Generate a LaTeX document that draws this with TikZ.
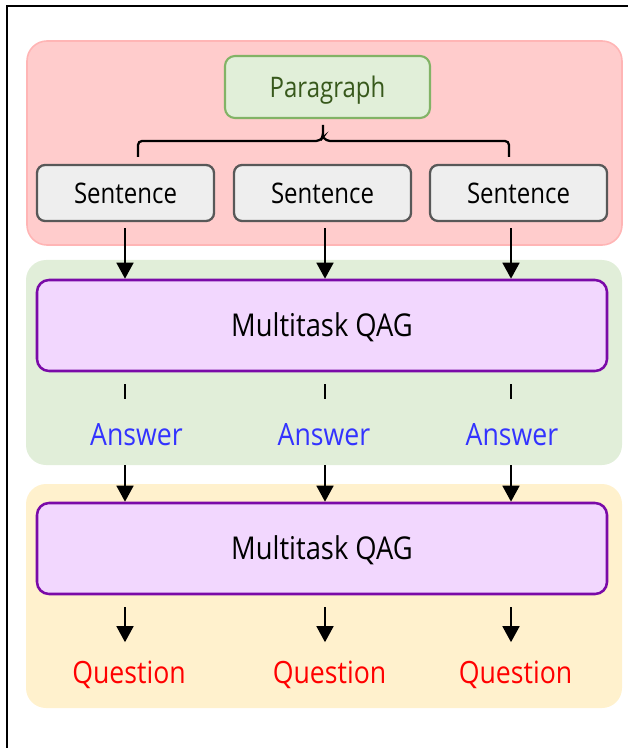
\documentclass[tikz,border=0pt]{standalone}
\usepackage{graphicx}
\usepackage{fontspec}
\setmainfont{Open Sans}
\usetikzlibrary{arrows.meta,calc}

\definecolor{regionred}{HTML}{FFCCCC}
\definecolor{regionredline}{HTML}{FFB5B5}
\definecolor{regiongreen}{HTML}{E1EED9}
\definecolor{regionyellow}{HTML}{FFF1CD}
\definecolor{parafill}{HTML}{E1EFD9}
\definecolor{paraline}{HTML}{82B366}
\definecolor{paratext}{HTML}{38591C}
\definecolor{sentfill}{HTML}{EEEEEE}
\definecolor{sentline}{HTML}{585858}
\definecolor{qagfill}{HTML}{F2D7FE}
\definecolor{qagline}{HTML}{7A0AA8}
\definecolor{answerblue}{HTML}{3333FF}
\definecolor{questionred}{HTML}{FF0000}

% tall lettering: the face is set a little higher than it is wide
\newcommand{\tallword}[2][1.15]{\scalebox{1}[#1]{#2}}

\tikzset{
  region/.style={rectangle, rounded corners=15pt, inner sep=0pt},
  parabox/.style={rectangle, rounded corners=7.5pt, draw=paraline, fill=parafill,
    line width=1.6pt, minimum width=153.75pt, minimum height=46.5pt,
    text height=15.2pt, text depth=0pt, inner sep=0pt,
    text=paratext, font=\fontsize{18}{22}\selectfont},
  sentbox/.style={rectangle, rounded corners=6pt, draw=sentline, fill=sentfill,
    line width=1.7pt, minimum width=132.75pt, minimum height=42pt,
    text height=15.2pt, text depth=0pt, inner sep=0pt,
    font=\fontsize{18}{22}\selectfont},
  qagbox/.style={rectangle, rounded corners=9pt, draw=qagline, fill=qagfill,
    line width=1.9pt, minimum width=427.5pt, minimum height=68.25pt,
    text height=16.6pt, text depth=0pt, inner sep=0pt,
    font=\fontsize{20.5}{24}\selectfont},
  answerlabel/.style={anchor=base, inner sep=0pt, text=answerblue,
    font=\fontsize{20}{24}\selectfont},
  questionlabel/.style={anchor=base, inner sep=0pt, text=questionred,
    font=\fontsize{20}{24}\selectfont},
  flow/.style={line width=1.9pt, -{Triangle[width=12.5pt,length=12pt]}},
  tick/.style={line width=1.9pt},
}

\begin{document}
\begin{tikzpicture}[x=0.75pt,y=-0.75pt]
  \useasboundingbox (0,0) rectangle (628,748);

  % outer frame (left and top edges)
  \draw[line width=1.6pt] (7,748) -- (7,6) -- (628,6);

  % background regions
  \node[region, fill=regionred, draw=regionredline, line width=1.2pt,
        minimum width=446.25pt, minimum height=153pt] (red) at (324.5,143) {};
  \node[region, fill=regiongreen,
        minimum width=447pt, minimum height=153.75pt] (green) at (324,362.5) {};
  \node[region, fill=regionyellow,
        minimum width=447pt, minimum height=168pt] (yellow) at (324,596) {};

  % arrow columns
  \coordinate (cA) at (125,0);
  \coordinate (cB) at (325,0);
  \coordinate (cC) at (511,0);

  % paragraph and its sentences
  \node[parabox] (para) at (327.5,87) {\tallword[1.18]{Paragraph}};
  \node[sentbox] (s1) at (125.5,193) {\tallword[1.18]{Sentence}};
  \node[sentbox] (s2) at (322.5,193) {\tallword[1.18]{Sentence}};
  \node[sentbox] (s3) at (518.5,193) {\tallword[1.18]{Sentence}};

  % brace grouping the sentences
  \draw[line width=1.7pt, rounded corners=3pt]
    (138,157) -- (138,141) -- (320,141) -- (323,137) -- (323,125);
  \draw[line width=1.7pt, rounded corners=3pt]
    (323,137) -- (326,141) -- (509,141) -- (509,157);

  % two QAG stages
  \node[qagbox] (m1) at (322,325.5) {\tallword{Multitask QAG}};
  \node[qagbox] (m2) at (322,548.5) {\tallword{Multitask QAG}};

  % intermediate answers
  \node[answerlabel] (a1) at (136.5,445) {\tallword{Answer}};
  \node[answerlabel] (a2) at (324,445) {\tallword{Answer}};
  \node[answerlabel] (a3) at (512,445) {\tallword{Answer}};

  % generated questions
  \node[questionlabel] (q1) at (129,683) {\tallword{Question}};
  \node[questionlabel] (q2) at (329.5,683) {\tallword{Question}};
  \node[questionlabel] (q3) at (515.5,683) {\tallword{Question}};

  % sentences into the first QAG stage
  \draw[flow] ($(s1.south -| cA)+(0,6)$) -- (m1.north -| cA);
  \draw[flow] ($(s2.south -| cB)+(0,6)$) -- (m1.north -| cB);
  \draw[flow] ($(s3.south -| cC)+(0,6)$) -- (m1.north -| cC);

  % first stage to answers
  \draw[tick] ($(m1.south -| cA)+(0,12)$) -- ($(m1.south -| cA)+(0,27)$);
  \draw[tick] ($(m1.south -| cB)+(0,12)$) -- ($(m1.south -| cB)+(0,27)$);
  \draw[tick] ($(m1.south -| cC)+(0,12)$) -- ($(m1.south -| cC)+(0,27)$);

  % answers into the second QAG stage
  \draw[flow] (green.south -| cA) -- (m2.north -| cA);
  \draw[flow] (green.south -| cB) -- (m2.north -| cB);
  \draw[flow] (green.south -| cC) -- (m2.north -| cC);

  % second stage to questions
  \draw[flow] ($(m2.south -| cA)+(0,12)$) -- ($(q1.north -| cA)+(0,-18)$);
  \draw[flow] ($(m2.south -| cB)+(0,12)$) -- ($(q2.north -| cB)+(0,-18)$);
  \draw[flow] ($(m2.south -| cC)+(0,12)$) -- ($(q3.north -| cC)+(0,-18)$);
\end{tikzpicture}
\end{document}
